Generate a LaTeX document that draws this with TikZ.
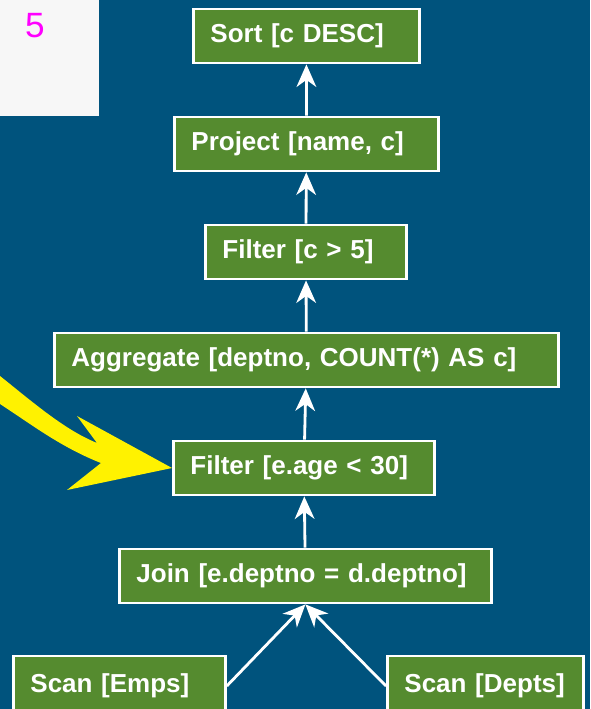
\documentclass[tikz,border=0pt]{standalone}
\usepackage{fontspec}
\setmainfont{Liberation Sans}
\usetikzlibrary{arrows.meta}
\definecolor{slideblue}{HTML}{00537D}
\definecolor{opgreen}{HTML}{558B2F}
\definecolor{notewhite}{HTML}{F7F7F7}
\definecolor{numpink}{HTML}{FF00FF}

\begin{document}
\begin{tikzpicture}[
    op/.style={draw=white, line width=2pt, fill=opgreen, text=white,
               font=\fontsize{18.5}{22}\selectfont\bfseries, anchor=west,
               minimum height=1.35cm, inner xsep=0.425cm, align=left},
    flow/.style={-{Stealth[length=16pt, width=14pt, inset=5pt]},
                 line width=2pt, draw=white},
    pointer/.style={fill=yellow, draw=none}
]

\fill[slideblue] (0,0) rectangle (14.75,-17.725);
\useasboundingbox (0,0) rectangle (14.75,-17.725);

% corner of the slide number box
\fill[notewhite] (0,0) rectangle (2.475,-2.9);
\node[text=numpink, font=\fontsize{25}{30}\selectfont] (num) at (0.875,-0.65) {5};

\node[op, text width=4.8cm]   (Sort)      at (4.8,-0.9)    {Sort [c DESC]};
\node[op, text width=5.75cm]  (Project)   at (4.325,-3.6)  {Project [name, c]};
\node[op, text width=4.175cm] (FilterC)   at (5.1,-6.3)    {Filter [c > 5]};
\node[op, text width=11.75cm] (Aggregate) at (1.325,-9.0)  {Aggregate [deptno, COUNT(*) AS c]};
\node[op, text width=5.675cm] (FilterAge) at (4.3,-11.7)   {Filter [e.age < 30]};
\node[op, text width=8.45cm]  (Join)      at (2.95,-14.4)  {Join [e.deptno = d.deptno]};
\node[op, text width=4.45cm, minimum height=1.5cm] (ScanEmps)  at (0.3,-17.15)  {Scan [Emps]};
\node[op, text width=4.05cm, minimum height=1.5cm] (ScanDepts) at (9.65,-17.15) {Scan [Depts]};

\draw[flow] (Project) -- (Sort);
\draw[flow] (FilterC) -- (Project);
\draw[flow] (Aggregate) -- (FilterC);
\draw[flow] (FilterAge) -- (Aggregate);
\draw[flow] (Join) -- (FilterAge);
\draw[flow] (ScanEmps.east) -- (Join.south);
\draw[flow] (ScanDepts.west) -- (Join.south);

% big yellow pointer
\fill[pointer] (0,-9.4) .. controls (0.875,-10.1) and (1.625,-10.75) .. (2.425,-11.075)
    -- (1.925,-10.4) -- (FilterAge.west) -- (1.675,-12.25) -- (2.525,-11.575)
    .. controls (1.5,-11.175) and (0.7,-10.55) .. (0,-10.1) -- cycle;

\end{tikzpicture}
\end{document}
